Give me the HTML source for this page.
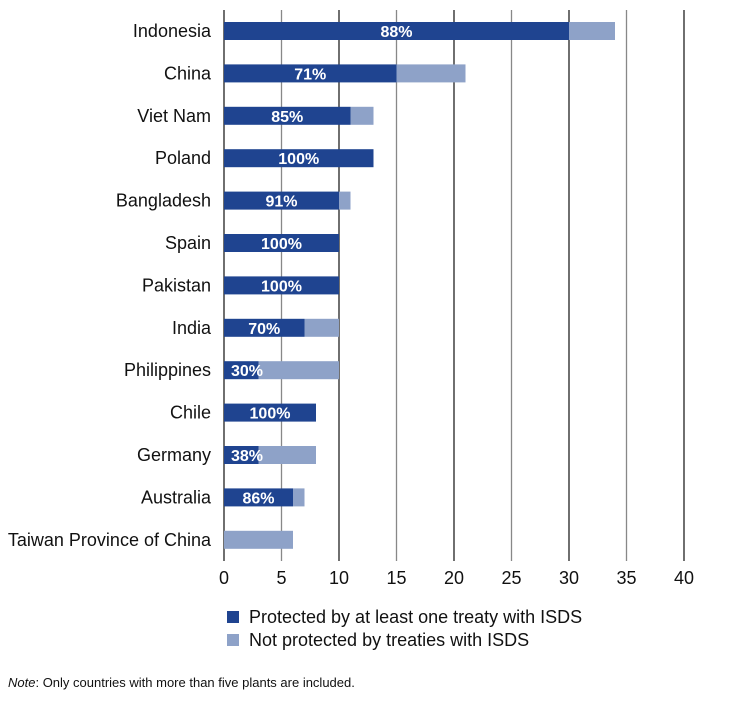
<!DOCTYPE html>
<html><head><meta charset="utf-8"><style>
body{margin:0;background:#fff;font-family:"Liberation Sans",sans-serif;}
</style></head><body>
<svg id="chart" width="754" height="697" xmlns="http://www.w3.org/2000/svg"></svg>
<script>
const categories=["Indonesia","China","Viet Nam","Poland","Bangladesh","Spain","Pakistan","India","Philippines","Chile","Germany","Australia","Taiwan Province of China"];
const protectedVals=[30,15,11,13,10,10,10,7,3,8,3,6,0];
const totalVals=[34,21,13,13,11,10,10,10,10,8,8,7,6];
const pctLabels=["88%","71%","85%","100%","91%","100%","100%","70%","30%","100%","38%","86%",""];
const ticks=[0,5,10,15,20,25,30,35,40];

const svg=document.getElementById('chart');
const NS="http://www.w3.org/2000/svg";
const x0=224,scale=11.5;
const xs=v=>x0+v*scale;
const yc=i=>31+i*42.4;
function mk(t,a,txt){const e=document.createElementNS(NS,t);for(const k in a)e.setAttribute(k,a[k]);if(txt!==undefined)e.textContent=txt;svg.appendChild(e);return e;}

ticks.forEach(t=>{
  const g=mk('line',{x1:xs(t),x2:xs(t),y1:10,y2:561,stroke:t%10===0?'#222':'#888','stroke-width':1.3});
  
  
  const l=mk('text',{x:xs(t),y:584,'text-anchor':'middle','font-size':18,fill:'#111'},String(t));
  
  
});

categories.forEach((c,i)=>{
  const y=yc(i);
  const lab=mk('text',{x:211,y:y+6,'text-anchor':'end','font-size':18,fill:'#111'},c);
  
  
  if(totalVals[i]>protectedVals[i]){
    const r=mk('rect',{x:xs(protectedVals[i]),y:y-9,width:(totalVals[i]-protectedVals[i])*scale,height:18,fill:'#8ea2c8'});
    
    
  }
  if(protectedVals[i]>0){
    const r=mk('rect',{x:xs(0),y:y-9,width:protectedVals[i]*scale,height:18,fill:'#1f4490'});
    
    
  }
  if(pctLabels[i]){
    const cx=Math.max(xs(protectedVals[i]/2),247);
    const t=mk('text',{x:cx,y:y+6,'text-anchor':'middle','font-size':16,'font-weight':'bold',fill:'#fff'},pctLabels[i]);
    
    
  }
});

const l1=mk('rect',{x:227,y:611,width:12,height:12,fill:'#1f4490'});


const t1=mk('text',{x:249,y:623,'font-size':18,fill:'#111'},'Protected by at least one treaty with ISDS');


const l2=mk('rect',{x:227,y:634,width:12,height:12,fill:'#8ea2c8'});


const t2=mk('text',{x:249,y:646,'font-size':18,fill:'#111'},'Not protected by treaties with ISDS');



const n=mk('text',{x:8,y:687,'font-size':13,fill:'#111'});


n.innerHTML='<tspan font-style="italic">Note</tspan>: Only countries with more than five plants are included.';
</script>
</body></html>
